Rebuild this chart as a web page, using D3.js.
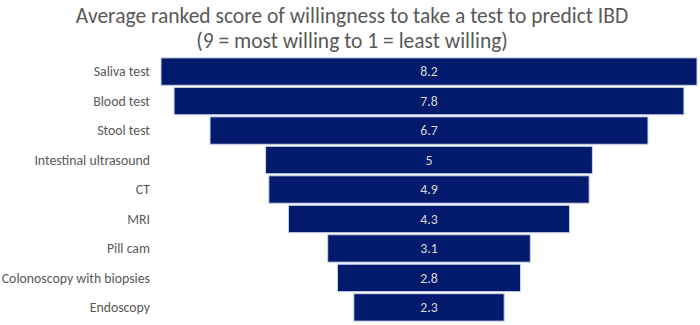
<!DOCTYPE html>
<html>
<head>
<meta charset="utf-8">
<script src="https://cdn.jsdelivr.net/npm/d3@7"></script>
<style>
body { margin: 0; background: #fff; }
svg { font-family: Carlito, "Open Sans", "Liberation Sans", sans-serif; }
</style>
</head>
<body>
<script>
var width = 700,
    height = 325;

var tests = ["Saliva test", "Blood test", "Stool test", "Intestinal ultrasound", "CT",
             "MRI", "Pill cam", "Colonoscopy with biopsies", "Endoscopy"];
var scores = [8.2, 7.8, 6.7, 5, 4.9, 4.3, 3.1, 2.8, 2.3];
var titleLines = ["Average ranked score of willingness to take a test to predict IBD",
                  "(9 = most willing to 1 = least willing)"];

var data = tests.map(function(t, i) { return {name: t, value: scores[i]}; });

var svg = d3.select("body").append("svg")
    .attr("width", width)
    .attr("height", height);

// title
svg.selectAll(".title").data(titleLines).enter().append("text")
    .attr("class", "title")
    .attr("x", 352)
    .attr("y", function(d, i) { return 23 + i * 25; })
    .attr("text-anchor", "middle")
    .style("font-size", "21.5px")
    .style("fill", "#595959")
    .text(function(d) { return d; });

var centerX = 429;
var w = d3.scaleLinear().domain([0, 8.2]).range([0, 536]);
var y = d3.scaleBand().domain(tests).range([57, 322]).paddingInner(0.07).paddingOuter(0.03);

// category labels
svg.selectAll(".cat").data(data).enter().append("text")
    .attr("class", "cat")
    .attr("x", 150)
    .attr("y", function(d) { return y(d.name) + y.bandwidth() / 2; })
    .attr("dy", "0.35em")
    .attr("text-anchor", "end")
    .style("font-size", "13.8px")
    .style("fill", "#595959")
    .text(function(d) { return d.name; });

// funnel bars
svg.selectAll(".bar").data(data).enter().append("rect")
    .attr("class", "bar")
    .attr("x", function(d) { return centerX - w(d.value) / 2; })
    .attr("y", function(d) { return y(d.name); })
    .attr("width", function(d) { return w(d.value); })
    .attr("height", y.bandwidth())
    .style("fill", "#021A6B")
    .style("stroke", "#c9d3ec")
    .style("stroke-width", 1);

// value labels
svg.selectAll(".val").data(data).enter().append("text")
    .attr("class", "val")
    .attr("x", centerX)
    .attr("y", function(d) { return y(d.name) + y.bandwidth() / 2; })
    .attr("dy", "0.35em")
    .attr("text-anchor", "middle")
    .style("font-size", "13.8px")
    .style("fill", "#d9d9d9")
    .text(function(d) { return d.value; });
</script>
</body>
</html>
